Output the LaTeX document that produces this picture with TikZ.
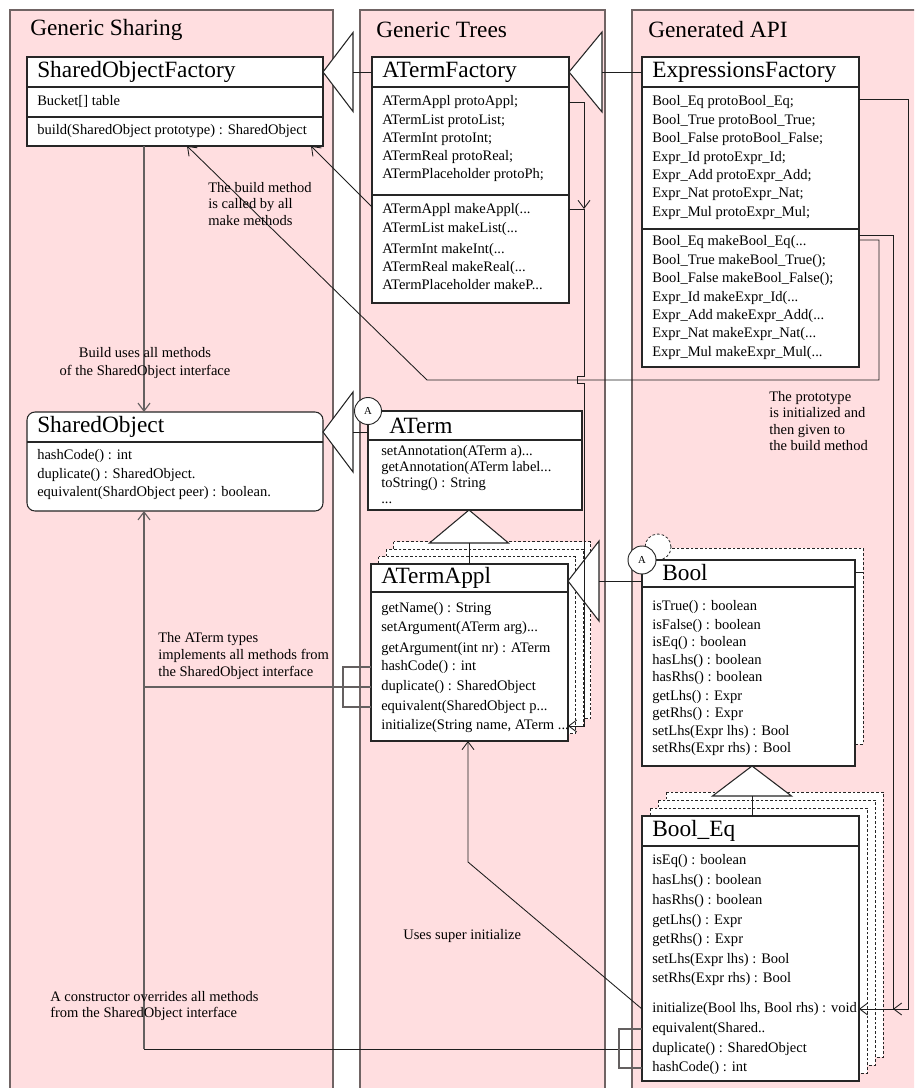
\documentclass[tikz,border=0pt]{standalone}
\usepackage{fontspec}
\setmainfont{Liberation Serif}
\usetikzlibrary{arrows.meta,calc}
\definecolor{panelbg}{RGB}{255,222,224}
\definecolor{panelln}{RGB}{112,100,100}
\definecolor{lnk}{RGB}{30,30,30}
\definecolor{glnk}{RGB}{100,96,96}
\newcommand\bigf{\fontsize{17.5}{20}\selectfont}
\newcommand\smf{\fontsize{10.9}{13}\selectfont}
\newcommand\lblf{\fontsize{10.9}{12.4}\selectfont}
\newcommand\lblwf{\fontsize{10.9}{13.5}\selectfont}
\newcommand\circf{\fontsize{8}{9}\selectfont}
\newcommand\ddd{...}
\begin{document}
\begin{tikzpicture}[x=0.75pt,y=-0.75pt,
  panel/.style={fill=panelbg,draw=panelln,line width=1pt},
  cls/.style={draw=black!85,fill=white,line width=0.8pt,inner sep=0pt,outer sep=0pt,anchor=north west},
  divl/.style={draw=black!85,line width=0.8pt},
  ttl/.style={font=\bigf,anchor=west,inner sep=0pt},
  mem/.style={font=\smf,anchor=west,inner sep=0pt,text height=7.6pt,text depth=2.4pt},
  lbl/.style={font=\lblf,align=left,anchor=west,inner sep=0pt},
  conn/.style={draw=lnk,line width=0.65pt},
  gconn/.style={draw=glnk,line width=0.85pt},
  arr/.style={-{Straight Barb[length=6pt,width=9pt]}},
  tri/.style={draw=black!85,fill=white,line width=0.8pt},
  dbox/.style={draw=black!85,fill=white,line width=0.6pt,dash pattern=on 2pt off 1.5pt},
  acirc/.style={circle,draw=black!85,fill=white,line width=0.7pt,inner sep=0pt,font=\circf}
]
\clip (0,0) rectangle (914,1088);
\fill[white] (0,0) rectangle (914,1088);

% panels
\draw[panel] (10,10) rectangle (333,1100);
\draw[panel] (360,10) rectangle (605,1100);
\draw[panel] (632,10) rectangle (930,1100);
\node[ttl] (p1) at (30,30) {Generic Sharing};
\node[ttl] (p2) at (376,30) {Generic Trees};
\node[ttl] (p3) at (648,30) {Generated API};

% dashed stacked copies
\draw[dbox] (393.5,541.5) rectangle (590.5,718.5);
\draw[dbox] (386,549) rectangle (583,726);
\draw[dbox] (378.5,556.5) rectangle (575.5,733.5);
\draw[dbox] (666,792) rectangle (883,1057);
\draw[dbox] (658,800) rectangle (875,1065);
\draw[dbox] (650,808) rectangle (867,1073);
\draw[dbox] (650,548) rectangle (863,744);

% class boxes
\node[cls,minimum width=222pt,minimum height=66.75pt] (sof) at (27,57) {};
\node[cls,minimum width=147.75pt,minimum height=184.5pt] (atf) at (372,57) {};
\node[cls,minimum width=162.75pt,minimum height=232.5pt] (exf) at (642,57) {};
\node[cls,rounded corners=6pt,minimum width=222pt,minimum height=74.25pt] (sho) at (27,412) {};
\node[cls,minimum width=160.5pt,minimum height=74.25pt] (atm) at (368,411) {};
\node[cls,minimum width=147.75pt,minimum height=132.75pt] (apl) at (371,564) {};
\node[circle,draw=black!85,fill=white,dash pattern=on 2pt off 1.5pt,line width=0.6pt,minimum size=19.5pt,inner sep=0pt] (bdc) at (658,547) {};
\node[cls,minimum width=159.75pt,minimum height=154.5pt] (bool) at (642,560) {};
\node[cls,minimum width=162.75pt,minimum height=198.75pt] (beq) at (642,816) {};
\draw[conn] (855,572) -- (863,572);

% dividers
\draw[divl] (27,87) -- (323,87);
\draw[divl] (27,117) -- (323,117);
\draw[divl] (372,87) -- (569,87);
\draw[divl] (372,195) -- (569,195);
\draw[divl] (642,87) -- (859,87);
\draw[divl] (642,229) -- (859,229);
\draw[divl] (27,442) -- (323,442);
\draw[divl] (368,440) -- (582,440);
\draw[divl] (371,592) -- (568,592);
\draw[divl] (642,587) -- (855,587);
\draw[divl] (642,846) -- (859,846);

% texts: SharedObjectFactory
\node[ttl] (sofn) at (37,72) {SharedObjectFactory};
\node[mem] (sofa1) at (37,102) {Bucket[] table};
\node[mem] (sofm1) at (37,131) {build(SharedObject prototype) : SharedObject};

% ATermFactory
\node[ttl] (atfn) at (382,72) {ATermFactory};
\foreach \t/\y [count=\i] in {ATermAppl protoAppl;/102,ATermList protoList;/121,ATermInt protoInt;/139,ATermReal protoReal;/157,ATermPlaceholder protoPh;/175}
  \node[mem] (atfa\i) at (382,\y) {\t};
\foreach \t/\y [count=\i] in {ATermAppl makeAppl(\ddd/210,ATermList makeList(\ddd/229,ATermInt makeInt(\ddd/250,ATermReal makeReal(\ddd/268,ATermPlaceholder makeP\ddd/286}
  \node[mem] (atfm\i) at (382,\y) {\t};

% ExpressionsFactory
\node[ttl] (exfn) at (652,72) {ExpressionsFactory};
\foreach \t/\y [count=\i] in {Bool\_Eq protoBool\_Eq;/102,Bool\_True protoBool\_True;/121,Bool\_False protoBool\_False;/139,Expr\_Id protoExpr\_Id;/158,Expr\_Add protoExpr\_Add;/176,Expr\_Nat protoExpr\_Nat;/194,Expr\_Mul protoExpr\_Mul;/213}
  \node[mem] (exfa\i) at (652,\y) {\t};
\foreach \t/\y [count=\i] in {Bool\_Eq makeBool\_Eq(\ddd/242,Bool\_True makeBool\_True();/261,Bool\_False makeBool\_False();/279,Expr\_Id makeExpr\_Id(\ddd/298,Expr\_Add makeExpr\_Add(\ddd/316,Expr\_Nat makeExpr\_Nat(\ddd/334,Expr\_Mul makeExpr\_Mul(\ddd/353}
  \node[mem] (exfm\i) at (652,\y) {\t};

% SharedObject
\node[ttl] (shon) at (37,427) {SharedObject};
\foreach \t/\y [count=\i] in {hashCode() : int/456,duplicate() : SharedObject./475,equivalent(ShardObject peer) : boolean./493}
  \node[mem] (shom\i) at (37,\y) {\t};

% ATerm
\node[ttl] (atmn) at (389,426) {ATerm};
\foreach \t/\y [count=\i] in {setAnnotation(ATerm a)\ddd/452,getAnnotation(ATerm label\ddd/468,toString() : String/484,\ddd/500}
  \node[mem] (atmm\i) at (381,\y) {\t};

% ATermAppl
\node[ttl] (apln) at (381,578) {ATermAppl};
\foreach \t/\y [count=\i] in {getName() : String/609,setArgument(ATerm arg)\ddd/628,getArgument(int nr) : ATerm/649,hashCode() : int/667,duplicate() : SharedObject/687,equivalent(SharedObject p\ddd/707,{initialize(String name, ATerm \ddd}/726}
  \node[mem] (aplm\i) at (381,\y) {\t};

% Bool
\node[ttl] (booln) at (662,573) {Bool};
\foreach \t/\y [count=\i] in {isTrue() : boolean/607,isFalse() : boolean/626,isEq() : boolean/643,hasLhs() : boolean/661,hasRhs() : boolean/678,getLhs() : Expr/697,getRhs() : Expr/714,setLhs(Expr lhs) : Bool/732,setRhs(Expr rhs) : Bool/749}
  \node[mem] (boolm\i) at (652,\y) {\t};

% Bool_Eq
\node[ttl] (beqn) at (652,831) {Bool\_Eq};
\foreach \t/\y [count=\i] in {isEq() : boolean/861,hasLhs() : boolean/881,hasRhs() : boolean/901,getLhs() : Expr/921,getRhs() : Expr/940,setLhs(Expr lhs) : Bool/960,setRhs(Expr rhs) : Bool/979,{initialize(Bool lhs, Bool rhs) : void}/1009,equivalent(Shared../1029,duplicate() : SharedObject/1049,hashCode() : int/1068}
  \node[mem] (beqm\i) at (652,\y) {\t};

% abstract markers
\node[acirc,minimum size=20.25pt] (ca1) at (atm.north west) {A};
\node[acirc,minimum size=21pt] (ca2) at (bool.north west) {A};

% generalisations
\coordinate (g1) at (353,72);
\draw[tri] (sof.east |- g1) -- ($(g1)+(0,-39.5)$) -- ($(g1)+(0,39.5)$) -- cycle;
\draw[conn] (g1) -- (atf.west |- g1);
\coordinate (g2) at (602,72);
\draw[tri] (atf.east |- g2) -- ($(g2)+(0,-40)$) -- ($(g2)+(0,40)$) -- cycle;
\draw[conn] (g2) -- (exf.west |- g2);
\coordinate (g3) at (353,432);
\draw[tri] (sho.east |- g3) -- ($(g3)+(0,-40)$) -- ($(g3)+(0,40)$) -- cycle;
\draw[conn] (g3) -- (atm.west |- g3);
\coordinate (g4) at (599,581);
\draw[tri] (apl.east |- g4) -- ($(g4)+(0,-40)$) -- ($(g4)+(0,40)$) -- cycle;
\draw[conn] (g4) -- (bool.west |- g4);
\coordinate (g5) at (469,543);
\draw[tri] (atm.south -| g5) -- ($(g5)+(-39.5,0)$) -- ($(g5)+(39.5,0)$) -- cycle;
\draw[conn] (g5) -- (apl.north -| g5);
\coordinate (g6) at (752,796);
\draw[tri] (bool.south -| g6) -- ($(g6)+(-39.5,0)$) -- ($(g6)+(39.5,0)$) -- cycle;
\draw[conn] (g6) -- (beq.north -| g6);

% SharedObject connectors
\coordinate (bx) at (144,0);
\draw[gconn,arr] (sof.south -| bx) -- (sho.north -| bx);
\draw[conn] (beq.west |- beqm10) -- (bx |- beqm10);
\draw[gconn,arr] (bx |- beqm10) -- (sho.south -| bx);
\draw[gconn] (beqm9 -| beq.west) -- ++(-23,0) |- (beqm11 -| beq.west);
\draw[gconn] (apl.west |- aplm5) -- (bx |- aplm5);
\draw[gconn] (aplm4 -| apl.west) -- ++(-28,0) |- (aplm6 -| apl.west);

% uses super initialize
\coordinate (sb) at (468,862);
\draw[conn,arr] (beqm8 -| beq.west) -- (sb) -- (apl.south -| sb);

% make methods call build
\coordinate (bt1) at ($(sof.south east)+(-12,0)$);
\coordinate (bt2) at ($(sof.south)+(12,0)$);
\draw[conn,arr] ($(atfm1 -| atf.west)+(0,-3)$) -- (bt1);
\coordinate (e3) at ($(exfm1 -| exf.east)+(0,-2)$);
\coordinate (r3) at (879,380);
\coordinate (hb) at (427,380);
\draw[conn,arr] (e3) -- (e3 -| r3) -- (r3) -- (hb) -- (bt2);

% ATermFactory prototypes -> initialize
\coordinate (vx) at (584,0);
\draw[conn,arr] (atfa1 -| atf.east) -- (vx |- atfa1) -- ($(vx |- atfm1)+(0,-1)$);
\draw[conn,arr] ($(atfm1 -| atf.east)+(0,-1)$) -- ($(vx |- atfm1)+(0,-1)$) -- ($(vx |- hb)+(0,-3.5)$) -- ++(-7,0) -- ++(0,7) -- ++(7,0) -- (vx |- aplm7) -- (aplm7 -| apl.east);

% ExpressionsFactory prototypes -> initialize
\coordinate (r1) at (908,0);
\coordinate (r2) at (893,0);
\coordinate (e1) at ($(exfa1 -| exf.east)+(0,-3)$);
\coordinate (e2) at ($(exfm1 -| exf.east)+(0,-7)$);
\draw[conn,arr] (e1) -- (e1 -| r1) -- (r1 |- beqm8) -- (r2 |- beqm8);
\draw[conn,arr] (e2) -- (e2 -| r2) -- (r2 |- beqm8) -- (beqm8 -| beq.east);

% labels
\node[font=\lblwf,align=center,inner sep=0pt] (lb1) at (145,363) {Build uses all methods\\of the SharedObject interface};
\node[lbl] (lb2) at (208,204) {The build method\\is called by all\\make methods};
\node[lbl] (lb3) at (158,656) {The ATerm types\\implements all methods from\\the SharedObject interface};
\node[lbl] (lb4) at (403,936) {Uses super initialize};
\node[lbl] (lb5) at (50,1006) {A constructor overrides all methods\\from the SharedObject interface};
\node[lbl] (lb6) at (769,421) {The prototype\\is initialized and\\then given to\\the build method};
\end{tikzpicture}
\end{document}
